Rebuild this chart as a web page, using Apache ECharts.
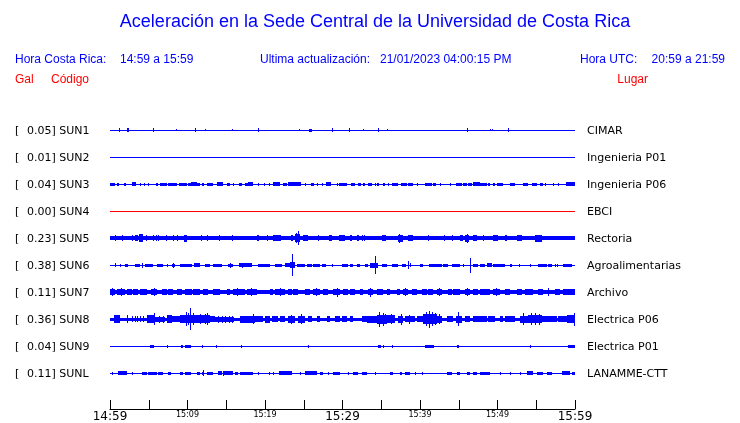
<!DOCTYPE html>
<html>
<head>
<meta charset="utf-8">
<script src="https://cdn.jsdelivr.net/npm/echarts@6/dist/echarts.min.js"></script>
<style>html,body{margin:0;padding:0;background:#fff}#c{width:740px;height:423px}</style>
</head>
<body>
<div id="c"></div>
<script>
// ---- data ----
var codes = ['SUN1','SUN2','SUN3','SUN4','SUN5','SUN6','SUN7','SUN8','SUN9','SUNL'];
var places = ['CIMAR','Ingenieria P01','Ingenieria P06','EBCI','Rectoria','Agroalimentarias','Archivo','Electrica P06','Electrica P01','LANAMME-CTT'];
var galValues = ['0.05','0.01','0.04','0.00','0.23','0.38','0.11','0.36','0.04','0.11'];
var tickLabels = ['14:59','15:09','15:19','15:29','15:39','15:49','15:59'];
// continuous band half-amplitude of each trace
var baseAmp = [0.5,0.5,0.5,0.5,2,0.5,2.2,1.5,0.5,0.5];
// bursts: [start min, end min, half amplitude]
var sun1 = [[1.2,1.2,2],[2.2,2.5,2],[5.6,5.6,2],[8.5,8.5,1],[11.0,11.0,2.3],[12.2,12.2,1],[15.8,15.8,1],[19.1,19.1,2.3],[24.4,24.4,1],[25.7,26.1,1.5],[28.6,28.6,2.3],[30.9,30.9,2.3],[32.6,32.6,1],[34.6,34.6,2.3],[35.8,35.8,1],[46.1,46.1,2.3],[49.0,49.0,1],[49.3,49.3,1],[51.3,51.3,2.3]];
var sun2 = [];
var sun3 = [[0,0.6,1.5],[0.9,1.2,1.5],[1.8,2.1,1.5],[2.8,3.4,2],[3.9,3.9,1.5],[4.4,4.4,1.5],[4.9,4.9,1.5],[5.9,6.2,1.5],[6.5,7.4,1.5],[7.5,8.6,1.5],[8.9,9.9,1.5],[10.1,11.6,1.5],[10.5,11.2,2],[11.9,12.1,1.5],[12.5,13.3,1.5],[13.8,14.6,2],[15.1,15.5,1.5],[15.9,15.9,1.5],[16.6,17.0,1.5],[17.4,18.5,1.5],[17.8,18.4,2],[19.1,19.1,1.5],[19.9,19.9,1.5],[20.5,20.5,1.5],[21.0,21.9,2],[22.3,22.8,1.5],[23.0,24.6,2],[25.2,25.2,1.5],[25.9,26.3,1.5],[26.7,26.8,1.5],[27.4,27.4,1.5],[27.9,28.5,2],[29.3,29.3,1.5],[29.5,30.6,1.5],[31.1,31.6,1.5],[32.0,32.4,1.5],[32.6,32.9,1.5],[33.3,33.8,1.5],[34.2,34.2,1.5],[34.5,34.7,1.5],[35.2,35.5,1.5],[35.9,35.9,1.5],[36.4,37.2,1.5],[37.5,38.3,1.5],[38.5,39.1,1.5],[39.6,39.6,1.5],[40.6,41.5,1.5],[41.7,42.1,1.5],[42.6,42.6,1.5],[43.9,43.9,1.5],[44.6,45.4,1.5],[45.5,46.1,1.5],[46.2,46.7,1.5],[46.8,47.7,2],[47.7,48.6,1.5],[48.8,49.0,1.5],[49.4,49.7,1.5],[49.9,50.7,1.5],[51.6,52.3,1.5],[53.3,53.9,1.5],[54.5,55.1,1.5],[55.5,55.9,1.5],[56.1,56.1,1.5],[57.2,57.2,1.5],[57.8,57.8,1.5],[58.8,60,2]];
var sun4 = [];
var sun5 = [[0.6,0.6,3.3],[1.6,1.6,3.3],[2.8,2.8,3],[3.2,3.6,3],[3.7,4.3,4],[4.7,4.7,3],[5.5,5.5,3],[5.9,5.9,3],[6.2,6.2,3],[7.2,7.2,3],[8.1,8.1,3],[8.6,8.6,3],[9.5,9.9,3.5],[11.8,11.8,3],[12.5,12.5,3],[14.1,14.1,3],[15.7,15.7,3],[19.0,19.2,3],[20.3,20.3,3],[21.0,22.1,3],[23.4,23.6,3],[23.9,24.5,4],[24.0,24.0,5],[24.3,24.3,7.3],[24.9,25.5,3],[26.8,26.8,2.7],[28.3,28.6,3],[29.5,30.3,3],[31.0,31.2,3],[31.9,32.1,3],[32.5,32.5,3],[32.8,32.8,3],[35.1,35.6,3],[37.2,37.8,3.5],[37.3,37.3,4.5],[38.5,39.1,3],[41.0,41.0,3],[43.1,43.1,3],[44.1,44.1,3],[45.2,45.5,3],[45.8,46.3,3.5],[46.1,46.1,4.5],[46.8,47.4,3],[48.1,48.1,3],[49.4,50.1,3],[51.0,51.2,3],[52.5,53.2,3],[54.8,55.7,3.5]];
var sun6 = [[0.6,0.6,2],[1.3,1.3,1.5],[1.9,2.3,1.5],[3.2,3.9,1.5],[4.1,4.1,2.5],[4.5,5.6,1.5],[6.1,6.8,1.5],[7.4,7.5,1.5],[8.0,8.4,1.5],[8.1,8.1,2.5],[9.0,10.6,1.5],[10.8,11.6,2],[12.3,12.9,1.5],[13.3,14.5,1.5],[15.2,15.9,1.5],[15.5,15.5,2.5],[16.6,18.3,2],[17.0,17.0,2.5],[19.1,20.6,1.5],[21.3,22.2,1.5],[22.6,23.2,2],[23.2,23.9,3],[23.5,23.5,11],[24.1,25.2,1.5],[25.4,26.1,1.5],[26.2,27.1,1.5],[27.4,27.9,1.5],[28.6,28.6,1.5],[29.9,30.7,1.5],[31.0,31.4,1.5],[31.9,32.3,1.5],[32.9,33.3,1.5],[33.5,34.6,2.5],[34.2,34.2,9],[35.1,35.7,1.5],[36.4,37.2,1.5],[37.7,38.2,1.5],[38.4,38.4,4],[38.7,38.7,2],[40.0,40.4,1.5],[41.2,42.8,1.5],[43.0,43.6,1.5],[44.1,45.2,1.5],[45.5,45.5,1.5],[46.5,46.5,7.5],[46.8,47.5,1.5],[47.7,48.4,1.5],[48.6,49.3,2],[49.4,51.0,1.5],[51.6,51.9,1.5],[52.8,52.8,1.5],[54.2,54.2,1.5],[55.2,56.4,1.5],[56.5,57.0,1.5],[57.4,57.4,1.5],[57.7,57.7,1.5],[58.5,59.6,1.5]];
var sun7 = [[0,0.6,3],[0.3,0.3,4],[0.9,1.9,3],[1.4,1.4,4],[2.2,2.8,2.8],[3.0,3.6,3],[3.9,4.8,2.8],[5.3,6.1,3],[5.7,5.7,4],[6.7,7.4,2.8],[7.5,8.1,3],[8.6,9.3,2.8],[9.7,10.6,3],[10.7,11.6,2.8],[12.0,12.6,3],[13.3,14.2,2.8],[15.1,15.5,3],[15.9,17.4,3],[16.4,16.4,4],[17.7,19.0,3],[18.2,18.2,4],[20.6,21.0,2.8],[21.3,22.6,3],[21.9,21.9,4],[23.0,23.5,2.8],[23.6,24.3,3],[25.2,25.8,3],[26.2,27.1,3],[26.6,26.6,4],[27.5,28.1,2.8],[28.8,29.7,3.2],[29.3,29.3,4.5],[30.1,30.7,2.8],[31.0,31.6,2.8],[32.3,32.6,3],[33.3,33.9,3.2],[33.6,33.6,4.5],[34.5,35.2,3],[35.7,36.1,2.8],[37.0,37.4,3],[37.8,38.5,3],[38.1,38.1,4],[39.0,39.6,2.8],[40.3,40.9,3],[41.0,41.7,2.8],[42.2,42.8,3],[42.5,42.5,4],[43.6,44.1,2.8],[44.3,45.2,3],[45.8,46.5,3],[46.1,46.1,4],[46.8,47.5,2.8],[47.7,49.0,3],[49.4,50.3,3],[49.8,49.8,4],[51.0,51.6,2.8],[52.5,53.2,3],[53.5,54.6,2.8],[55.2,55.9,3],[56.5,56.5,4],[57.4,58.1,3],[58.5,60,3]];
var sun8 = [[0.5,1.3,4],[2.2,2.2,4],[2.8,2.8,3],[3.2,3.2,3],[3.5,3.5,3],[3.9,3.9,3],[4.2,4.2,3],[4.8,5.8,4],[5.7,5.7,6],[5.8,7.1,2.5],[6.3,6.3,3.5],[6.8,6.8,3.5],[7.4,8.0,4],[8.0,9.0,3],[9.0,12.9,4.2],[9.8,9.8,7],[10.0,10.0,6],[10.3,10.3,11],[10.7,10.7,6],[11.6,11.6,5],[12.3,12.3,5],[12.5,12.5,6],[12.9,13.6,3],[13.6,16.0,2.5],[13.9,13.9,3.5],[14.4,14.4,3.5],[14.8,14.8,3.5],[15.3,15.3,3.5],[15.8,15.8,3.5],[16.8,18.7,3.5],[18.4,18.4,5],[18.7,19.3,3.2],[19.4,19.7,3],[20.0,20.6,3.5],[20.9,21.7,3],[21.9,22.6,3],[23.0,23.9,3.5],[23.4,23.4,4.5],[24.3,25.2,3.5],[24.7,24.7,5],[25.5,26.1,3],[26.7,27.1,3],[28.0,28.4,3],[29.0,29.7,3],[29.9,30.6,3.2],[31.0,31.4,3],[32.5,33.2,3],[33.2,34.5,3.5],[34.5,35.7,4.5],[34.7,34.7,7.5],[35.2,35.2,6.5],[35.5,35.5,5],[35.7,36.8,3.8],[36.2,36.2,5],[37.2,37.8,3.5],[37.5,37.5,5.5],[38.1,39.4,3.2],[38.6,38.6,4.5],[39.6,40.4,3],[40.4,42.2,5],[40.8,40.8,7],[41.1,41.1,8.5],[41.5,41.5,7],[41.9,41.9,6],[42.2,42.8,3.5],[42.5,42.5,5],[43.5,44.3,3],[44.6,45.4,3.5],[44.9,44.9,7],[45.8,46.5,3],[46.8,47.7,3.2],[47.7,48.6,3.2],[48.8,49.7,3.2],[50.3,50.7,3],[51.0,52.3,3.2],[52.9,53.9,3.5],[53.3,53.3,6],[53.9,55.7,4.2],[54.3,54.3,6],[54.9,54.9,6],[55.3,55.3,5.5],[55.7,57.7,3.2],[57.8,59.0,3.2],[59.0,60,4],[59.9,59.9,6.5]];
var sun9 = [[5.2,5.7,1.5],[7.4,7.4,1.5],[9.2,9.4,1.5],[9.7,10.5,1.5],[11.9,11.9,1.5],[13.7,13.7,1.5],[16.9,16.9,1.5],[25.5,25.5,1.5],[34.6,35.0,1.5],[35.2,35.2,1.5],[36.4,36.4,1.5],[40.6,41.8,1.5],[44.8,45.0,1.5],[54.2,54.2,1.5],[59.1,60,1.5]];
var sunL = [[0.2,0.2,1.5],[1.0,2.2,2],[2.8,2.8,1.5],[4.1,4.8,1.5],[4.9,6.1,1.5],[6.2,6.8,1.5],[7.5,7.9,1.5],[9.0,9.4,1.5],[9.7,10.5,1.5],[11.2,11.6,1.5],[11.9,12.1,1.5],[12.0,12.0,3],[12.5,13.3,1.5],[13.9,14.5,2],[14.6,15.9,2],[14.6,14.6,2.5],[16.1,16.5,1.5],[16.8,18.5,1.5],[19.1,19.1,1.5],[20.5,20.5,1.5],[21.0,21.0,1.5],[21.8,23.5,2],[24.5,24.5,1.5],[25.2,26.7,2],[27.1,27.5,1.5],[28.1,28.1,1.5],[28.8,29.7,1.5],[30.7,30.7,1.5],[31.4,32.0,1.5],[32.5,33.2,1.5],[34.2,34.2,1.5],[36.1,36.5,1.5],[37.4,37.7,1.5],[38.1,38.7,1.5],[39.4,39.4,1.5],[40.3,40.3,1.5],[43.5,44.1,1.5],[44.8,45.2,1.5],[46.1,46.5,1.5],[46.8,47.4,1.5],[47.7,49.0,1.5],[50.3,50.3,1.5],[51.6,51.6,1.5],[52.9,52.9,1.5],[53.8,54.6,2],[55.1,55.9,1.5],[56.4,57.0,1.5],[58.3,59.4,2],[59.6,60,1.5]];
var traces = [sun1,sun2,sun3,sun4,sun5,sun6,sun7,sun8,sun9,sunL];

// ---- layout / style ----
var ROW = 27;           // vertical spacing between traces (axis units)
var BLUE = '#0000ff', RED = '#ff0000';
var traceColors = codes.map(function (c) { return c === 'SUN4' ? RED : BLUE; });

function makeRender(row, color) {
  return function (params, api) {
    var a = api.value(2);
    var p0 = api.coord([api.value(0), row - a]);
    var p1 = api.coord([api.value(1), row + a]);
    var x0 = Math.round(p0[0]);
    var x1 = Math.max(x0 + 1, Math.round(p1[0]));
    var ya = Math.round(Math.min(p0[1], p1[1]));
    var yb = Math.max(ya + 1, Math.round(Math.max(p0[1], p1[1])));
    return { type: 'rect', shape: { x: x0, y: ya, width: x1 - x0, height: yb - ya }, style: { fill: color } };
  };
}

var series = traces.map(function (ev, i) {
  var data = [[0, 60, baseAmp[i]]].concat(ev);
  return {
    type: 'custom', clip: false, silent: true, animation: false,
    renderItem: makeRender(i * ROW, traceColors[i]),
    encode: { x: [0, 1], y: 2 },
    data: data
  };
});

var graphics = [];
function txt(x, y, s, opt) {
  graphics.push({ type: 'text', x: x, y: y, silent: true,
    style: Object.assign({ text: s, fill: '#000', font: '11px "DejaVu Sans"', textVerticalAlign: 'middle', textAlign: 'left' }, opt || {}) });
}
var hdr = '12px "Liberation Sans"';
txt(375, 22, 'Aceleración en la Sede Central de la Universidad de Costa Rica', { fill: BLUE, font: '18px "Liberation Sans"', textAlign: 'center' });
txt(15, 60, 'Hora Costa Rica:', { fill: BLUE, font: hdr });
txt(120, 60, tickLabels[0] + ' a ' + tickLabels[6], { fill: BLUE, font: hdr });
txt(260, 60, 'Ultima actualización:', { fill: BLUE, font: hdr });
txt(380, 60, '21/01/2023 04:00:15 PM', { fill: BLUE, font: hdr });
txt(580, 60, 'Hora UTC:', { fill: BLUE, font: hdr });
txt(725, 60, '20:59 a 21:59', { fill: BLUE, font: hdr, textAlign: 'right' });
txt(15, 80, 'Gal', { fill: RED, font: hdr });
txt(51, 80, 'Código', { fill: RED, font: hdr });
txt(648, 80, 'Lugar', { fill: RED, font: hdr, textAlign: 'right' });
for (var i = 0; i < codes.length; i++) {
  var y = 131 + i * ROW;
  txt(15, y, '[');
  txt(27, y, galValues[i] + '] ' + codes[i]);
  txt(587, y, places[i]);
}

var chart = echarts.init(document.getElementById('c'), null, { renderer: 'canvas' });
chart.setOption({
  animation: false,
  backgroundColor: '#fff',
  grid: { left: 110, right: 165, top: 103, bottom: 23 },
  xAxis: {
    type: 'value', min: 0, max: 60, interval: 5, offset: 9,
    axisLine: { onZero: false, lineStyle: { color: '#000', width: 1 } },
    axisTick: { inside: true, length: 9, lineStyle: { color: '#000' } },
    splitLine: { show: false },
    axisLabel: {
      margin: 2, color: '#000',
      formatter: function (v) {
        if (v % 10 !== 0) return '';
        var s = tickLabels[v / 10];
        return v % 30 === 0 ? '{b|' + s + '}' : '{s|' + s + '}';
      },
      rich: {
        b: { fontFamily: 'DejaVu Sans', fontSize: 12, color: '#000' },
        s: { fontFamily: 'DejaVu Sans', fontSize: 8, color: '#000' }
      }
    }
  },
  yAxis: { type: 'value', min: -ROW, max: 10 * ROW, inverse: true, show: false },
  graphic: graphics,
  series: series
});
</script>
</body>
</html>
